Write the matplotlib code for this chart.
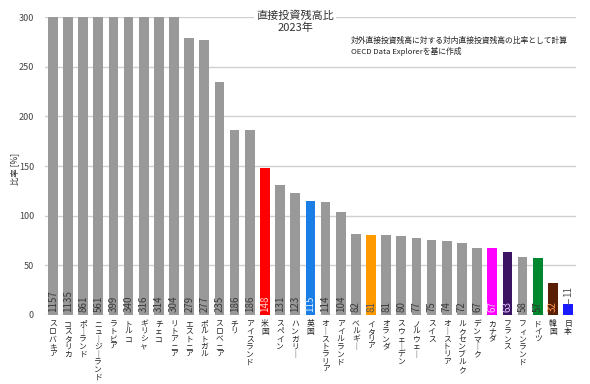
import numpy as np
import matplotlib.pyplot as plt

plt.rcParams['font.family'] = ['Noto Sans CJK JP', 'DejaVu Sans']

countries = ["スロバキア", "コスタリカ", "ポーランド", "ニュージーランド", "ラトビア", "トルコ",
             "ギリシャ", "チェコ", "リトアニア", "エストニア", "ポルトガル", "スロベニア",
             "チリ", "アイスランド", "米国", "スペイン", "ハンガリー", "英国", "オーストラリア",
             "アイルランド", "ベルギー", "イタリア", "オランダ", "スウェーデン", "ノルウェー",
             "スイス", "オーストリア", "ルクセンブルク", "デンマーク", "カナダ", "フランス",
             "フィンランド", "ドイツ", "韓国", "日本"]
values = [1157, 1135, 861, 561, 399, 340, 316, 314, 304, 279, 277, 235,
          186, 186, 148, 131, 123, 115, 114, 104, 82, 81, 81, 80, 77,
          75, 74, 72, 67, 67, 63, 58, 57, 32, 11]

highlight = {"米国": ("#ff0000", "#ffd0d0"),
             "英国": ("#1a7ee6", "#d8ecff"),
             "イタリア": ("#ff9900", "#555555"),
             "カナダ": ("#ff00ff", "#ffc8ff"),
             "フランス": ("#3c1464", "#e0c8ff"),
             "ドイツ": ("#00882e", "#333333"),
             "韓国": ("#5a1e05", "#ff9a50"),
             "日本": ("#1a1aff", "#555555")}

fig = plt.figure(figsize=(5.9, 3.84), dpi=100)
ax = fig.add_axes([0.0766, 0.180, 0.899, 0.775])

x = np.arange(len(countries))
ymax = 300
bar_colors = [highlight.get(c, ("#999999", None))[0] for c in countries]
ax.bar(x, np.minimum(values, ymax), width=0.64, color=bar_colors, zorder=2)

for i, (c, v) in enumerate(zip(countries, values)):
    tc = highlight.get(c, (None, "#3a3a3a"))[1]
    if v < 20:
        ax.text(i, v + 7, str(v), rotation=90, ha='center', va='bottom',
                fontsize=7, color="#555555")
        ax.plot([i, i], [v, v + 5], color="#555555", lw=0.6)
    else:
        ax.text(i, 3, str(v), rotation=90, ha='center', va='bottom',
                fontsize=7, color=tc, zorder=3)
    label = "\n".join("｜" if ch == "ー" else ch for ch in c)
    ax.annotate(label, xy=(i, 0), xytext=(0, -4), textcoords='offset points',
                ha='center', va='top', fontsize=5.6, linespacing=0.93,
                color="#222222", annotation_clip=False)

ax.set_xlim(-0.5, len(countries) - 0.5)
ax.set_ylim(0, ymax)
ax.set_yticks(np.arange(0, 301, 50))
ax.set_xticks([])
ax.yaxis.grid(True, color="#d0d0d0", lw=1.0, zorder=0)
ax.tick_params(axis='y', length=0, labelsize=6.5, labelcolor="#444444", pad=8)
for s in ax.spines.values():
    s.set_visible(False)
ax.set_ylabel("比率 [%]", fontsize=6, color="#333333")
ax.yaxis.set_label_coords(-0.049, 0.49)

ax.text(0.471, 0.985, "直接投資残高比\n2023年", transform=ax.transAxes,
        ha='center', va='center', fontsize=8, color="#333333", linespacing=1.25,
        bbox=dict(facecolor='white', edgecolor='none', pad=1.5), zorder=5)
ax.text(0.576, 0.935, "対外直接投資残高に対する対内直接投資残高の比率として計算\nOECD Data Explorerを基に作成",
        transform=ax.transAxes, ha='left', va='top', fontsize=5.6, color="#222222",
        linespacing=1.35)

fig.savefig("out.png", dpi=100)
